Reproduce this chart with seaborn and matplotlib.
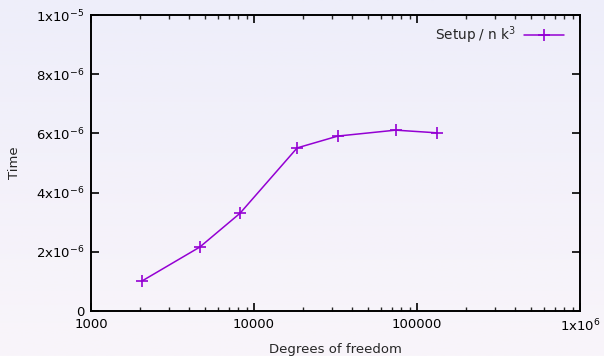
import numpy as np
import pandas as pd
import matplotlib
matplotlib.use("Agg")
import matplotlib.pyplot as plt
import matplotlib.ticker as mticker
import seaborn as sns

dofs = [2050, 4650, 8200, 18400, 32700, 74000, 132000]
times = [1.01e-6, 2.16e-6, 3.30e-6, 5.51e-6, 5.91e-6, 6.11e-6, 6.02e-6]
series_label = "Setup / n k$^3$"
x_ticks = [1000, 10000, 100000, 1000000]
x_tick_labels = ["1000", "10000", "100000", "1x10$^{6}$"]
y_ticks = [0, 2e-6, 4e-6, 6e-6, 8e-6, 1e-5]
y_tick_labels = ["0", "2x10$^{-6}$", "4x10$^{-6}$", "6x10$^{-6}$", "8x10$^{-6}$", "1x10$^{-5}$"]

sns.set_style("ticks")
plt.rcParams['font.family'] = ['DejaVu Sans']
plt.rcParams['mathtext.fontset'] = 'dejavusans'

fig = plt.figure(figsize=(6.04, 3.56), dpi=100)

# background gradient
bg = fig.add_axes([0, 0, 1, 1], zorder=-10)
top = np.array([238, 238, 250]) / 255
bot = np.array([249, 245, 250]) / 255
t = np.linspace(0, 1, 256)[:, None]
grad = top[None, :] * (1 - t) + bot[None, :] * t
bg.imshow(grad[:, None, :], aspect='auto', extent=[0, 1, 0, 1])
bg.axis('off')

ax = fig.add_axes([91 / 604, 1 - 311 / 356, (580 - 91) / 604, (311 - 15) / 356])
ax.patch.set_alpha(0)

df = pd.DataFrame({"dof": dofs, "time": times})
sns.lineplot(data=df, x="dof", y="time", ax=ax, color="#9400d3", marker="+",
             markersize=9, markeredgewidth=1.2, linewidth=1.1, label=series_label,
             markeredgecolor="#9400d3")

ax.set_xscale("log")
ax.set_xlim(1000, 1e6)
ax.set_ylim(0, 1e-5)
ax.xaxis.set_major_locator(mticker.FixedLocator(x_ticks))
ax.xaxis.set_major_formatter(mticker.FixedFormatter(x_tick_labels))
ax.xaxis.set_minor_locator(mticker.LogLocator(base=10, subs=np.arange(2, 10)))
ax.xaxis.set_minor_formatter(mticker.NullFormatter())
ax.yaxis.set_major_locator(mticker.FixedLocator(y_ticks))
ax.yaxis.set_major_formatter(mticker.FixedFormatter(y_tick_labels))

for s in ax.spines.values():
    s.set_visible(True)
    s.set_linewidth(1.4)
    s.set_color("black")
ax.tick_params(which="major", direction="in", length=6, width=1.2, top=True, right=True,
               labelsize=9.5, colors="black", pad=5)
ax.tick_params(which="minor", direction="in", length=3, width=1.0, top=True, right=True)
ax.tick_params(axis="y", which="both", left=True, right=True)

ax.set_xlabel("Degrees of freedom", fontsize=9.5, va="center")
ax.xaxis.set_label_coords(0.5, -38 / 296)
ax.set_ylabel("Time", fontsize=9.5, va="center")
ax.yaxis.set_label_coords(-76 / 489, 0.5)

leg = ax.legend(loc="upper right", frameon=False, markerfirst=False, fontsize=9.8,
                handlelength=2.9, handletextpad=0.6, borderaxespad=0.0,
                bbox_to_anchor=(1 - 11 / 489, 1 - 4 / 296))

fig.savefig("out.png", dpi=100)
